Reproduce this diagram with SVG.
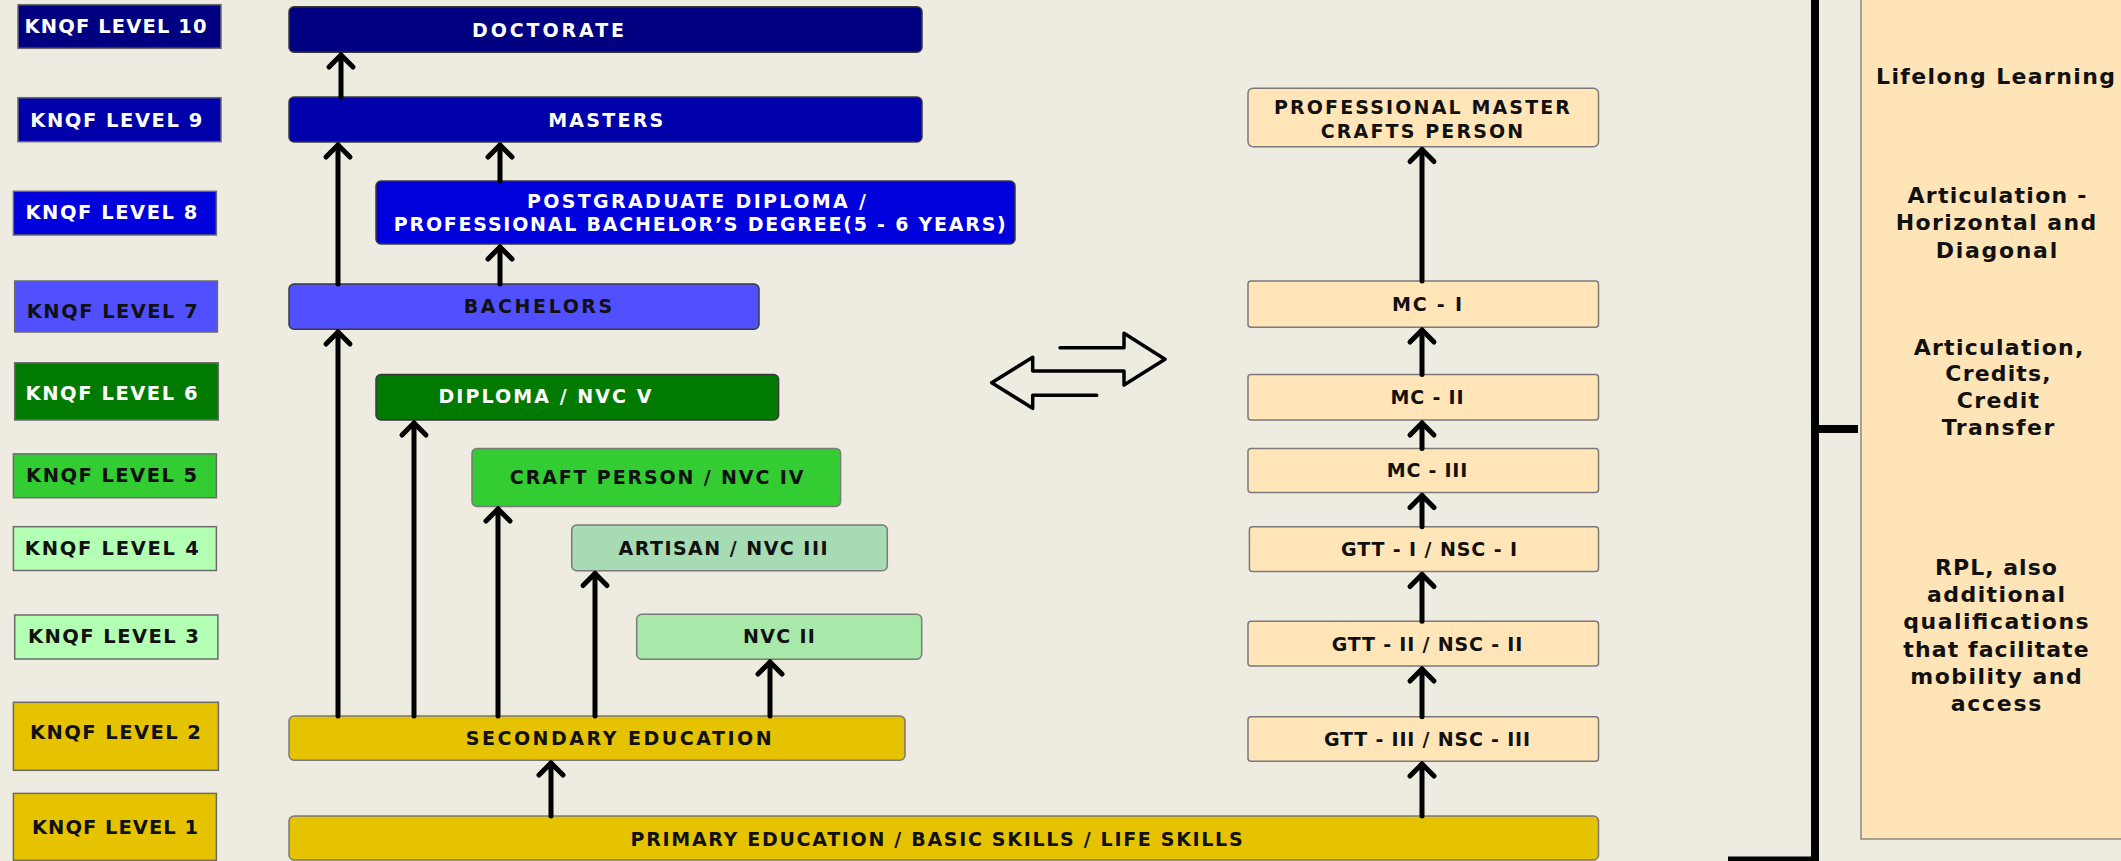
<svg xmlns="http://www.w3.org/2000/svg" width="2121" height="861" viewBox="0 0 2121 861">
<defs>
<style>
.bg{fill:#eeebe0}
.lvl{stroke:#6b6b6b;stroke-width:1.5}
.box{stroke:#3a3a3a;stroke-width:1.5}
.gbox{stroke:#7a7a7a;stroke-width:1.5}
.t{font-family:"DejaVu Sans","Liberation Sans",sans-serif;font-weight:bold;text-anchor:middle}
.lt{font-size:19.5px}
.bt{font-size:19px}
.pt{font-size:22px;fill:#111}
.w{fill:#ffffff}
.k{fill:#111111}
.conn line{stroke:#000;stroke-width:5;stroke-linecap:round}
.conn path.h{fill:none;stroke:#000;stroke-width:5;stroke-linecap:round;stroke-linejoin:round}
.br{stroke:#000;stroke-width:8;fill:none}
</style>
</defs>
<rect class="bg" x="0" y="0" width="2121" height="861"/>

<g id="levels">
<g id="level10"><rect class="lvl" x="18" y="4.7" width="203" height="43.6" fill="#000080"/><text class="t lt w" x="115.6" y="33.1" textLength="182" lengthAdjust="spacing">KNQF LEVEL 10</text></g>
<g id="level9"><rect class="lvl" x="18" y="97.7" width="203" height="44" fill="#0000aa"/><text class="t lt w" x="116.3" y="127.1" textLength="172" lengthAdjust="spacing">KNQF LEVEL 9</text></g>
<g id="level8"><rect class="lvl" x="13.4" y="191.3" width="203" height="43.7" fill="#0000dd"/><text class="t lt w" x="111.4" y="219.1" textLength="172" lengthAdjust="spacing">KNQF LEVEL 8</text></g>
<g id="level7"><rect class="lvl" x="14.7" y="281" width="202.7" height="51" fill="#5050ff"/><text class="t lt k" x="112.3" y="317.8" textLength="171" lengthAdjust="spacing">KNQF LEVEL 7</text></g>
<g id="level6"><rect class="lvl" x="14.7" y="362.8" width="203.6" height="57.2" fill="#007a00"/><text class="t lt w" x="111.6" y="400.3" textLength="172" lengthAdjust="spacing">KNQF LEVEL 6</text></g>
<g id="level5"><rect class="lvl" x="13.4" y="453.9" width="203" height="43.8" fill="#33cc33"/><text class="t lt k" x="111.6" y="482.4" textLength="171" lengthAdjust="spacing">KNQF LEVEL 5</text></g>
<g id="level4"><rect class="lvl" x="13.4" y="526.7" width="203" height="43.8" fill="#b3ffb3"/><text class="t lt k" x="111.8" y="554.8" textLength="174" lengthAdjust="spacing">KNQF LEVEL 4</text></g>
<g id="level3"><rect class="lvl" x="14.7" y="615" width="203.2" height="44" fill="#b3ffb3"/><text class="t lt k" x="113.4" y="642.8" textLength="171" lengthAdjust="spacing">KNQF LEVEL 3</text></g>
<g id="level2"><rect class="lvl" x="13.4" y="702.3" width="205" height="68" fill="#e6c300"/><text class="t lt k" x="115.4" y="738.8" textLength="171" lengthAdjust="spacing">KNQF LEVEL 2</text></g>
<g id="level1"><rect class="lvl" x="13.4" y="793.4" width="203" height="67" fill="#e6c300"/><text class="t lt k" x="115" y="834.3" textLength="166" lengthAdjust="spacing">KNQF LEVEL 1</text></g>
</g>

<g id="doctorate"><rect class="box" x="289" y="6.7" width="633" height="45.6" rx="5" fill="#000080"/><text class="t bt w" x="548" y="36.6" textLength="152" lengthAdjust="spacing">DOCTORATE</text></g>
<g id="masters"><rect class="box" x="289" y="97" width="633" height="45" rx="5" fill="#0000aa"/><text class="t bt w" x="605.7" y="126.9" textLength="115" lengthAdjust="spacing">MASTERS</text></g>
<g id="pgdiploma"><rect class="box" x="376" y="181" width="639" height="63" rx="5" fill="#0000dd"/><text class="t bt w" x="696.4" y="207.9" textLength="339" lengthAdjust="spacing">POSTGRADUATE DIPLOMA /</text><text class="t bt w" x="699.8" y="230.9" textLength="612" lengthAdjust="spacing">PROFESSIONAL BACHELOR’S DEGREE(5 - 6 YEARS)</text></g>
<g id="bachelors"><rect class="box" x="289" y="284" width="470" height="45.3" rx="5" fill="#5050ff"/><text class="t bt k" x="538" y="312.9" textLength="148.5" lengthAdjust="spacing">BACHELORS</text></g>
<g id="diploma"><rect class="box" x="376" y="374.5" width="402.6" height="45.5" rx="5" fill="#007a00"/><text class="t bt w" x="545" y="402.7" textLength="213" lengthAdjust="spacing">DIPLOMA / NVC V</text></g>
<g id="craftperson"><rect class="gbox" x="472" y="448.4" width="368.6" height="58" rx="5" fill="#33cc33"/><text class="t bt k" x="656.6" y="483.9" textLength="293.5" lengthAdjust="spacing">CRAFT PERSON / NVC IV</text></g>
<g id="artisan"><rect class="gbox" x="571.7" y="525" width="315.6" height="45.7" rx="5" fill="#a6dbb3"/><text class="t bt k" x="723" y="554.6" textLength="209" lengthAdjust="spacing">ARTISAN / NVC III</text></g>
<g id="nvc2"><rect class="gbox" x="636.7" y="614.3" width="285" height="45" rx="5" fill="#a8e8a8"/><text class="t bt k" x="779" y="643.1" textLength="71.8" lengthAdjust="spacing">NVC II</text></g>
<g id="secondary"><rect class="gbox" x="289" y="716" width="616" height="44.3" rx="5" fill="#e6c300"/><text class="t bt k" x="618.7" y="745.1" textLength="306" lengthAdjust="spacing">SECONDARY EDUCATION</text></g>
<g id="primary"><rect class="gbox" x="289" y="816" width="1309.5" height="44" rx="5" fill="#e6c300"/><text class="t bt k" x="936.6" y="846.2" textLength="612" lengthAdjust="spacing">PRIMARY EDUCATION / BASIC SKILLS / LIFE SKILLS</text></g>

<g id="pmc"><rect class="gbox" x="1248" y="88.3" width="350.5" height="58.4" rx="5" fill="#ffe5b8"/><text class="t bt k" x="1422" y="113.6" textLength="296" lengthAdjust="spacing">PROFESSIONAL MASTER</text><text class="t bt k" x="1422" y="137.6" textLength="202.5" lengthAdjust="spacing">CRAFTS PERSON</text></g>
<g id="mc1"><rect class="gbox" x="1248" y="281" width="350.5" height="46.3" rx="3" fill="#ffe5b8"/><text class="t bt k" x="1427" y="311.2" textLength="70" lengthAdjust="spacing">MC - I</text></g>
<g id="mc2"><rect class="gbox" x="1248" y="374.5" width="350.5" height="45.5" rx="3" fill="#ffe5b8"/><text class="t bt k" x="1427" y="403.5" textLength="73" lengthAdjust="spacing">MC - II</text></g>
<g id="mc3"><rect class="gbox" x="1248" y="448.4" width="350.5" height="44.1" rx="3" fill="#ffe5b8"/><text class="t bt k" x="1427" y="476.9" textLength="80.5" lengthAdjust="spacing">MC - III</text></g>
<g id="gtt1"><rect class="gbox" x="1249.4" y="526.7" width="349.1" height="44.8" rx="3" fill="#ffe5b8"/><text class="t bt k" x="1429" y="555.9" textLength="176" lengthAdjust="spacing">GTT - I / NSC - I</text></g>
<g id="gtt2"><rect class="gbox" x="1248" y="621.2" width="350.5" height="44.9" rx="3" fill="#ffe5b8"/><text class="t bt k" x="1427" y="650.6" textLength="190.5" lengthAdjust="spacing">GTT - II / NSC - II</text></g>
<g id="gtt3"><rect class="gbox" x="1248" y="716.8" width="350.5" height="44.5" rx="3" fill="#ffe5b8"/><text class="t bt k" x="1427" y="745.5" textLength="206" lengthAdjust="spacing">GTT - III / NSC - III</text></g>

<g id="sidepanel">
<rect x="1861" y="-10" width="270" height="849" fill="#ffe4b8" stroke="#8a8a80" stroke-width="1.5"/>
<text class="t pt" x="1995.5" y="83.8" textLength="239" lengthAdjust="spacing">Lifelong Learning</text>
<text class="t pt" x="1997" y="203" textLength="179" lengthAdjust="spacing">Articulation -</text>
<text class="t pt" x="1996" y="230.3" textLength="200.5" lengthAdjust="spacing">Horizontal and</text>
<text class="t pt" x="1996.5" y="257.8" textLength="121.4" lengthAdjust="spacing">Diagonal</text>
<text class="t pt" x="1998.5" y="354.5" textLength="169.7" lengthAdjust="spacing">Articulation,</text>
<text class="t pt" x="1998" y="381.3" textLength="105.3" lengthAdjust="spacing">Credits,</text>
<text class="t pt" x="1998" y="408" textLength="82.3" lengthAdjust="spacing">Credit</text>
<text class="t pt" x="1998" y="435" textLength="112.6" lengthAdjust="spacing">Transfer</text>
<text class="t pt" x="1996" y="574.5" textLength="121.8" lengthAdjust="spacing">RPL, also</text>
<text class="t pt" x="1996" y="601.8" textLength="138" lengthAdjust="spacing">additional</text>
<text class="t pt" x="1996" y="629.2" textLength="185.3" lengthAdjust="spacing">qualifications</text>
<text class="t pt" x="1996" y="656.5" textLength="185.3" lengthAdjust="spacing">that facilitate</text>
<text class="t pt" x="1996" y="683.8" textLength="171.5" lengthAdjust="spacing">mobility and</text>
<text class="t pt" x="1996" y="711.2" textLength="90.6" lengthAdjust="spacing">access</text>
</g>

<g id="connectors" class="conn">
<line x1="341" y1="97" x2="341" y2="55"/><path class="h" d="M329,67 L341,55 L353,67"/>
<line x1="338" y1="284" x2="338" y2="145"/><path class="h" d="M326,157 L338,145 L350,157"/>
<line x1="500" y1="181" x2="500" y2="145"/><path class="h" d="M488,157 L500,145 L512,157"/>
<line x1="500" y1="284" x2="500" y2="247"/><path class="h" d="M488,259 L500,247 L512,259"/>
<line x1="338" y1="716" x2="338" y2="332"/><path class="h" d="M326,344 L338,332 L350,344"/>
<line x1="414" y1="716" x2="414" y2="423"/><path class="h" d="M402,435 L414,423 L426,435"/>
<line x1="498" y1="716" x2="498" y2="509"/><path class="h" d="M486,521 L498,509 L510,521"/>
<line x1="595" y1="716" x2="595" y2="573.5"/><path class="h" d="M583,585.5 L595,573.5 L607,585.5"/>
<line x1="770" y1="716" x2="770" y2="662"/><path class="h" d="M758,674 L770,662 L782,674"/>
<line x1="551" y1="816" x2="551" y2="763"/><path class="h" d="M539,775 L551,763 L563,775"/>
<line x1="1422" y1="816" x2="1422" y2="764"/><path class="h" d="M1410,776 L1422,764 L1434,776"/>
<line x1="1422" y1="716.8" x2="1422" y2="669"/><path class="h" d="M1410,681 L1422,669 L1434,681"/>
<line x1="1422" y1="621.2" x2="1422" y2="574.5"/><path class="h" d="M1410,586.5 L1422,574.5 L1434,586.5"/>
<line x1="1422" y1="526.7" x2="1422" y2="495.5"/><path class="h" d="M1410,507.5 L1422,495.5 L1434,507.5"/>
<line x1="1422" y1="448.4" x2="1422" y2="423"/><path class="h" d="M1410,435 L1422,423 L1434,435"/>
<line x1="1422" y1="374.5" x2="1422" y2="330"/><path class="h" d="M1410,342 L1422,330 L1434,342"/>
<line x1="1422" y1="281" x2="1422" y2="149.5"/><path class="h" d="M1410,161.5 L1422,149.5 L1434,161.5"/>
</g>

<g id="exchange-arrow">
<path d="M1060,347.7 H1124 V333.3 L1165,359.3 L1124,385 V371 H1032.7 V357.3 L991.7,382.7 L1032.7,408.3 V395.3 H1096.7" fill="none" stroke="#000" stroke-width="3.5" stroke-linejoin="round" stroke-linecap="round"/>
</g>

<g id="bracket">
<path class="br" d="M1815,0 V860.5 H1728"/>
<path class="br" d="M1815,429 H1858"/>
</g>
</svg>
